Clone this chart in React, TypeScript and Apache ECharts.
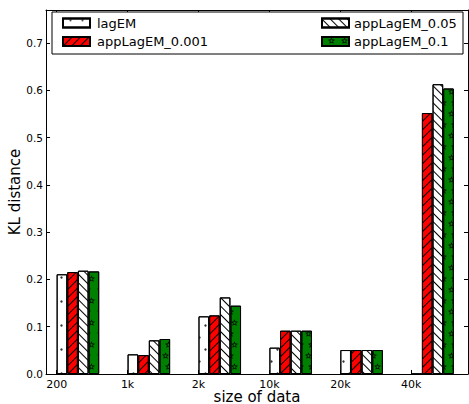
import React, { useEffect, useRef } from "react";
import * as echarts from "echarts";

const categories = ["200", "1k", "2k", "10k", "20k", "40k"];
const seriesNames = ["lagEM", "appLagEM_0.001", "appLagEM_0.05", "appLagEM_0.1"];
const lagEM = [0.211, 0.0416, 0.122, 0.0557, 0.0507, 0];
const app001 = [0.2156, 0.04, 0.124, 0.0916, 0.0507, 0.552];
const app005 = [0.2185, 0.0712, 0.162, 0.0916, 0.0507, 0.613];
const app01 = [0.217, 0.074, 0.1445, 0.0916, 0.0507, 0.604];
const yTicks = [0, 0.1, 0.2, 0.3, 0.4, 0.5, 0.6, 0.7];

const FONT = "DejaVu Sans";
const BAR_W = 0.15; // bar width in data units
const X_MIN = -0.15;
const X_MAX = 5.8;
const Y_MAX = 0.77;
const GRID = { left: 46, right: 1, top: 10, bottom: 30 };
const W = 469;
const H = 404;

function starPath(): string {
  const pts = (R: number, r: number, rev: boolean) => {
    const arr: string[] = [];
    for (let k = 0; k < 10; k++) {
      const a = ((-90 + 36 * k) * Math.PI) / 180;
      const rr = k % 2 === 0 ? R : r;
      arr.push((50 + rr * Math.cos(a)).toFixed(2) + " " + (50 + rr * Math.sin(a)).toFixed(2));
    }
    if (rev) arr.reverse();
    return "M" + arr.join(" L") + " Z";
  };
  return "path://" + pts(50, 22, false) + " " + pts(28, 11, true);
}

const decals = [
  {
    symbol: "circle",
    symbolSize: 0.8,
    color: "#333",
    dashArrayX: [[2.5, 8.5], [0, 5.5, 2.5, 3]],
    dashArrayY: [2.5, 9],
  },
  {
    symbol: "rect",
    symbolSize: 1,
    color: "#000",
    dashArrayX: [1, 0],
    dashArrayY: [1, 4.5],
    rotation: -Math.PI / 4,
  },
  {
    symbol: "rect",
    symbolSize: 1,
    color: "#000",
    dashArrayX: [1, 0],
    dashArrayY: [1, 4.5],
    rotation: Math.PI / 4,
  },
  {
    symbol: starPath(),
    symbolSize: 1,
    color: "#000",
    dashArrayX: [[7, 4], [0, 5.5, 7, 0]],
    dashArrayY: [7, 4],
  },
];

const colors = ["#ffffff", "#ff0000", "#ffffff", "#008000"];
const values = [lagEM, app001, app005, app01];

export default function App() {
  const ref = useRef<HTMLDivElement>(null);
  useEffect(() => {
    if (!ref.current) return;
    const chart = echarts.init(ref.current, null, { renderer: "svg" });
    const plotW = W - GRID.left - GRID.right;
    const pxPerUnit = plotW / (X_MAX - X_MIN);
    const barPx = BAR_W * pxPerUnit;

    const series = values.map((vals, k) => ({
      type: "bar",
      name: seriesNames[k],
      xAxisIndex: 0,
      yAxisIndex: 0,
      barWidth: barPx,
      barGap: "-100%",
      z: 2,
      itemStyle: {
        color: colors[k],
        borderColor: "#000",
        borderWidth: 1,
        decal: decals[k],
      },
      emphasis: { disabled: true },
      data: vals.map((v, i) => [i + BAR_W / 2 + k * BAR_W, v]),
    }));

    const xCustom = categories.map((_, i) => i);

    const option: any = {
      animation: false,
      backgroundColor: "#fff",
      textStyle: { fontFamily: FONT },
      grid: { ...GRID, containLabel: false, outerBoundsMode: "none" },
      xAxis: [
        {
          type: "value",
          min: X_MIN,
          max: X_MAX,
          position: "bottom",
          name: "size of data",
          nameLocation: "middle",
          nameGap: 16,
          nameMoveOverlap: false,
          nameTextStyle: { fontSize: 15, lineHeight: 14, color: "#000", fontFamily: FONT },
          axisLine: { show: true, onZero: false, lineStyle: { color: "#000", width: 1 } },
          axisTick: { show: true, inside: true, length: 4, lineStyle: { color: "#000" }, customValues: xCustom },
          axisLabel: {
            show: true,
            margin: 5,
            fontSize: 11,
            lineHeight: 11,
            color: "#000",
            fontFamily: FONT,
            customValues: xCustom,
            formatter: (v: number) => categories[Math.round(v)] ?? "",
          },
          splitLine: { show: false },
        },
        {
          type: "value",
          min: X_MIN,
          max: X_MAX,
          position: "top",
          axisLine: { show: true, onZero: false, lineStyle: { color: "#000", width: 1 } },
          axisTick: { show: true, inside: true, length: 4, lineStyle: { color: "#000" }, customValues: xCustom },
          axisLabel: { show: false },
          splitLine: { show: false },
        },
      ],
      yAxis: [
        {
          type: "value",
          min: 0,
          max: Y_MAX,
          position: "left",
          name: "KL distance",
          nameLocation: "middle",
          nameGap: 23.5,
          nameMoveOverlap: false,
          nameTextStyle: { fontSize: 15, color: "#000", fontFamily: FONT },
          axisLine: { show: true, onZero: false, lineStyle: { color: "#000", width: 1 } },
          axisTick: { show: true, inside: true, length: 4, lineStyle: { color: "#000" }, customValues: yTicks },
          axisLabel: {
            show: true,
            margin: 3,
            fontSize: 10.5,
            color: "#000",
            fontFamily: FONT,
            customValues: yTicks,
            formatter: (v: number) => v.toFixed(1),
          },
          splitLine: { show: false },
        },
        {
          type: "value",
          min: 0,
          max: Y_MAX,
          position: "right",
          axisLine: { show: true, onZero: false, lineStyle: { color: "#000", width: 1 } },
          axisTick: { show: true, inside: true, length: 4, lineStyle: { color: "#000" }, customValues: yTicks },
          axisLabel: { show: false },
          splitLine: { show: false },
        },
      ],
      legend: [
        {
          data: [seriesNames[0], seriesNames[1]],
          orient: "vertical",
          left: 57,
          top: 11.5,
          icon: "rect",
          itemWidth: 27,
          itemHeight: 9,
          itemGap: 5.5,
          z: 10,
          selectedMode: false,
          textStyle: { fontSize: 13, color: "#000", fontFamily: FONT, padding: [0, 0, 0, 2] },
        },
        {
          data: [seriesNames[2], seriesNames[3]],
          orient: "vertical",
          left: 316,
          top: 11.5,
          icon: "rect",
          itemWidth: 27,
          itemHeight: 9,
          itemGap: 5.5,
          z: 10,
          selectedMode: false,
          textStyle: { fontSize: 13, color: "#000", fontFamily: FONT, padding: [0, 0, 0, 0] },
        },
      ],
      graphic: [
        {
          type: "rect",
          z: 5,
          shape: { x: 52, y: 12, width: 411, height: 42 },
          style: { fill: "#fff", stroke: "#000", lineWidth: 1 },
        },
      ],
      series,
    };
    chart.setOption(option);
    return () => chart.dispose();
  }, []);
  return <div ref={ref} style={{ position: "absolute", left: 0, top: 0, width: W, height: H }} />;
}
